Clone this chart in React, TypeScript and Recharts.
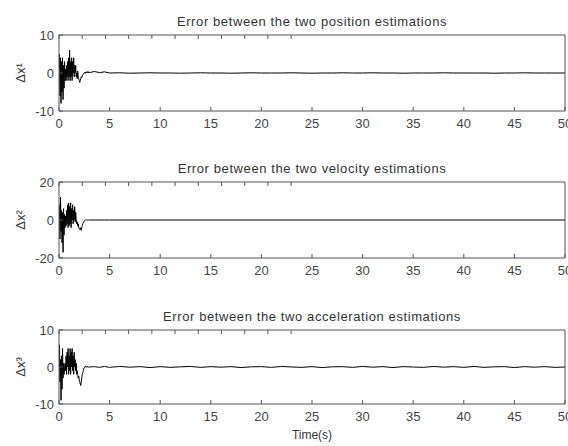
import { LineChart, Line, XAxis, YAxis } from 'recharts';

// time (s): dense sampling during the transient, sparse afterwards
const time = [
  0, 0.05, 0.1, 0.15, 0.2, 0.25, 0.3, 0.35, 0.4, 0.45,
  0.5, 0.55, 0.6, 0.65, 0.7, 0.75, 0.8, 0.85, 0.9, 0.95,
  1, 1.05, 1.1, 1.15, 1.2, 1.25, 1.3, 1.35, 1.4, 1.45,
  1.5, 1.55, 1.6, 1.65, 1.7, 1.75, 1.8, 1.85, 1.9, 1.95,
  2, 2.05, 2.1, 2.15, 2.2, 2.25, 2.3, 2.35, 2.4, 2.45,
  2.5, 2.55, 2.6, 2.65, 2.7, 2.75, 2.8, 2.85, 2.9, 2.95,
  3,
  3.5, 4, 4.5,
  5, 6, 7, 8, 9, 10,
  11, 12, 13, 14, 15, 16, 17, 18, 19, 20,
  21, 22, 23, 24, 25, 26, 27, 28, 29, 30,
  31, 32, 33, 34, 35, 36, 37, 38, 39, 40,
  41, 42, 43, 44, 45, 46, 47, 48, 49, 50,
];

const posErr = [
  0, 5, -6, 4, -8, 3, -5, 4, -7, 2,
  -4, 3, -2, 1, -2, 2, -1, 3, -2, 4,
  -1, 6, -2, 3, -1, 4, -2, 3, 0, 4,
  -1, 2, 0, 2, -1, 0, -1.5, 0.5, -1, -1.5,
  -2, -2.5, -2, -1.5, -1, -1.2, -0.8, -0.5, -0.3, -0.2,
  0, 0.2, -0.1, 0.3, 0, 0.2, 0.1, 0.4, 0, 0.3,
  0.1,
  0.4, 0.1, 0.3,
  0, 0.05, -0.05, 0, 0.05, 0,
  0, -0.05, 0, 0.05, 0, 0, -0.05, 0, 0.05, 0,
  0, 0, 0.05, 0, -0.05, 0, 0, 0.05, 0, 0,
  0.05, 0, 0, -0.05, 0, 0, 0, 0.05, 0, 0,
  0, 0, -0.05, 0, 0, 0.05, 0, 0, 0, 0,
];

const velErr = [
  0, 8, -10, 12, -6, 5, -12, 4, -17, 6,
  -8, 3, -4, 2, -3, 5, -2, 8, -4, 9,
  -3, 7, -2, 9, -4, 6, 0, 8, -2, 5,
  0, 7, -1, 4, 0, -2, -1, -3, -2, -4,
  -4.5, -5, -4, -5, -5.5, -4, -3, -2, -1.5, -1,
  -0.5, -0.3, 0, 0, 0, 0, 0, 0, 0, 0,
  0,
  0, 0, 0,
  0, 0, 0, 0, 0, 0,
  0, 0, 0, 0, 0, 0, 0, 0, 0, 0,
  0, 0, 0, 0, 0, 0, 0, 0, 0, 0,
  0, 0, 0, 0, 0, 0, 0, 0, 0, 0,
  0, 0, 0, 0, 0, 0, 0, 0, 0, 0,
];

const accErr = [
  0, 6, -4, 2, -9, 3, -6, 5, -3, 1,
  -2, 0, 1, -1, 3, -2, 4, 0, 5, -2,
  3, -1, 5, -2, 4, 0, 5, -1, 3, -2,
  4, 0, 2, -1, 1, -2, -1, -2, -3, -2.5,
  -3.5, -4, -4.5, -5, -4, -3, -2, -1.5, -1, -0.5,
  -0.2, 0, 0.2, 0, 0.1, -0.1, 0.15, 0, -0.1, 0.1,
  0,
  0.1, -0.1, 0.15,
  -0.1, 0.15, -0.05, 0.1, -0.15, 0.1,
  -0.1, 0.05, 0.15, -0.1, 0.1, -0.05, 0.1, -0.15, 0.05, 0.1,
  -0.1, 0.15, 0, -0.1, 0.1, -0.15, 0.05, 0.1, -0.1, 0.15,
  -0.05, 0.1, -0.15, 0.1, 0, -0.1, 0.15, -0.05, 0.1, -0.1,
  0.15, -0.1, 0.05, 0.1, -0.15, 0.1, -0.05, 0.1, -0.1, 0,
];

const xTicks = [0, 5, 10, 15, 20, 25, 30, 35, 40, 45, 50];
const titles = [
  'Error between the two position estimations',
  'Error between the two velocity estimations',
  'Error between the two acceleration estimations',
];
const yLabels = ['Δx¹', 'Δx²', 'Δx³'];
const yTicks = [
  [-10, 0, 10],
  [-20, 0, 20],
  [-10, 0, 10],
];

const data = time.map((t, i) => ({
  t,
  pos: posErr[i],
  vel: velErr[i],
  acc: accErr[i],
}));

const font = '"Liberation Sans", Arial, sans-serif';
const axisColor = '#555';
const tickStyle = { fontSize: 13, fill: '#444', fontFamily: font };

type PanelProps = {
  top: number;
  plotH: number;
  dataKey: string;
  ticks: number[];
  title: string;
  yLabel: string;
};

const Panel = ({ top, plotH, dataKey, ticks, title, yLabel }: PanelProps) => {
  const mTop = 19;
  const xh = 30;
  const h = mTop + 1 + plotH + xh;
  const lim = ticks[ticks.length - 1];
  return (
    <div style={{ position: 'absolute', left: 0, top: top - mTop - 1, width: 568, height: h }}>
      <div
        style={{
          position: 'absolute',
          left: 59,
          width: 506,
          top: 0,
          textAlign: 'center',
          fontFamily: font,
          fontSize: 13,
          letterSpacing: 0.6,
          color: '#333',
          lineHeight: '14px',
        }}
      >
        {title}
      </div>
      <div
        style={{
          position: 'absolute',
          left: 20,
          top: mTop + 1 + plotH / 2,
          transform: 'translate(-50%, -50%) rotate(-90deg)',
          fontFamily: font,
          fontSize: 13,
          color: '#333',
          whiteSpace: 'nowrap',
        }}
      >
        {yLabel}
      </div>
      <div style={{ position: 'absolute', left: 0, top: 0 }}>
        <LineChart width={568} height={h} data={data} margin={{ top: mTop, right: 2, bottom: 0, left: 0 }}>
          <XAxis
            dataKey="t"
            type="number"
            domain={[0, 50]}
            ticks={xTicks}
            interval={0}
            allowDataOverflow
            height={xh}
            tickSize={-4}
            tickMargin={12}
            tick={tickStyle}
            stroke={axisColor}
          />
          <XAxis
            xAxisId="top"
            orientation="top"
            type="number"
            domain={[0, 50]}
            ticks={xTicks}
            interval={0}
            height={1}
            tickSize={-4}
            tickFormatter={() => ''}
            stroke={axisColor}
          />
          <YAxis
            type="number"
            domain={[-lim, lim]}
            ticks={ticks}
            interval={0}
            allowDataOverflow
            width={59}
            tickSize={-4}
            tickMargin={9}
            tick={tickStyle}
            stroke={axisColor}
          />
          <YAxis
            yAxisId="right"
            orientation="right"
            type="number"
            domain={[-lim, lim]}
            ticks={ticks}
            interval={0}
            width={1}
            tickSize={-4}
            tickFormatter={() => ''}
            stroke={axisColor}
          />
          <Line
            type="linear"
            dataKey={dataKey}
            stroke="#000"
            strokeWidth={1}
            dot={false}
            isAnimationActive={false}
          />
        </LineChart>
      </div>
    </div>
  );
};

const App = () => {
  return (
    <div style={{ position: 'absolute', left: 0, top: 0, width: 568, height: 446, background: '#fff' }}>
      <Panel top={35} plotH={76} dataKey="pos" ticks={yTicks[0]} title={titles[0]} yLabel={yLabels[0]} />
      <Panel top={182} plotH={76} dataKey="vel" ticks={yTicks[1]} title={titles[1]} yLabel={yLabels[1]} />
      <Panel top={330} plotH={74} dataKey="acc" ticks={yTicks[2]} title={titles[2]} yLabel={yLabels[2]} />
      <div
        style={{
          position: 'absolute',
          left: 59,
          width: 506,
          top: 428,
          textAlign: 'center',
          fontFamily: font,
          fontSize: 12,
          color: '#333',
        }}
      >
        Time(s)
      </div>
    </div>
  );
};

export default App;
